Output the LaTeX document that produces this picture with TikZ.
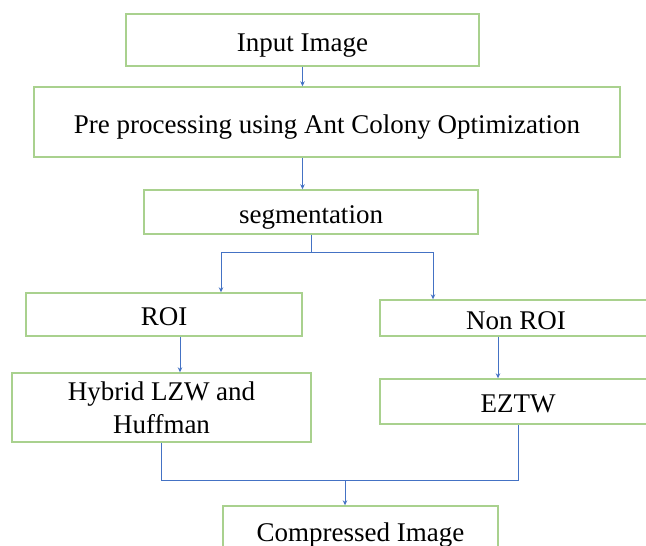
\documentclass[tikz,border=0pt]{standalone}
\usepackage{fontspec}
\setmainfont{Liberation Serif}
\usetikzlibrary{arrows.meta,calc}
\definecolor{boxgreen}{HTML}{A9D18E}
\definecolor{linkblue}{HTML}{4472C4}
\begin{document}
\begin{tikzpicture}[x=1pt,y=-1pt,
  stage/.style={draw=boxgreen, line width=1.4pt, fill=white, align=center,
    inner sep=0pt, text height=25.5pt, text depth=2.7pt,
    font=\fontsize{27}{34}\selectfont},
  twoline/.style={text height={}, text depth={}},
  link/.style={draw=linkblue, line width=0.9pt},
  arr/.style={link, -{Stealth[length=5pt,width=4.5pt]}}]
\useasboundingbox[fill=white] (0,0) rectangle (646,546);

% processing stages (the two right-hand boxes run past the page edge)
\node[stage, minimum width=353pt, minimum height=52pt] (in)     at (302.5,40)  {Input Image};
\node[stage, minimum width=586pt, minimum height=70pt] (pre)    at (327,122)   {Pre processing using Ant Colony Optimization};
\node[stage, minimum width=334pt, minimum height=44pt] (seg)    at (311,212)   {segmentation};
\node[stage, minimum width=276pt, minimum height=43pt] (roi)    at (164,314.5) {ROI};
\node[stage, minimum width=320pt, minimum height=36pt] (nonroi) at (540,318)   {\hspace*{-48pt}Non ROI};
\node[stage, twoline, minimum width=299pt, minimum height=69pt] (hyb) at (161.5,407.5) {Hybrid LZW and\\[-1pt]Huffman};
\node[stage, minimum width=320pt, minimum height=45pt] (eztw)   at (540,401.5) {\hspace*{-44pt}EZTW};
\node[stage, minimum width=275pt, minimum height=48pt] (out)    at (360.5,530) {Compressed Image};

% flow
\draw[arr] (in.south) -- (in.south |- pre.north);
\draw[arr] (in.south |- pre.south) -- (in.south |- seg.north);

\draw[link] (seg.south) -- ++(0,18) coordinate (fork);
\coordinate (roiin) at ([xshift=57pt]roi.north);
\coordinate (nonin) at ([xshift=-107pt]nonroi.north);
\draw[arr] (fork) -| (roiin);
\draw[arr] (fork) -| (nonin);

\coordinate (roiout) at ([xshift=16pt]roi.south);
\coordinate (nonout) at ([xshift=-42pt]nonroi.south);
\draw[arr] (roiout) -- (roiout |- hyb.north);
\draw[arr] (nonout) -- (nonout |- eztw.north);

\coordinate (eztwout) at ([xshift=-22pt]eztw.south);
\draw[link] (hyb.south) -- ++(0,38) coordinate (merge) -| (eztwout);
\coordinate (outin) at ([xshift=-15.5pt]out.north);
\draw[arr] (merge -| outin) -- (outin);
\end{tikzpicture}
\end{document}
